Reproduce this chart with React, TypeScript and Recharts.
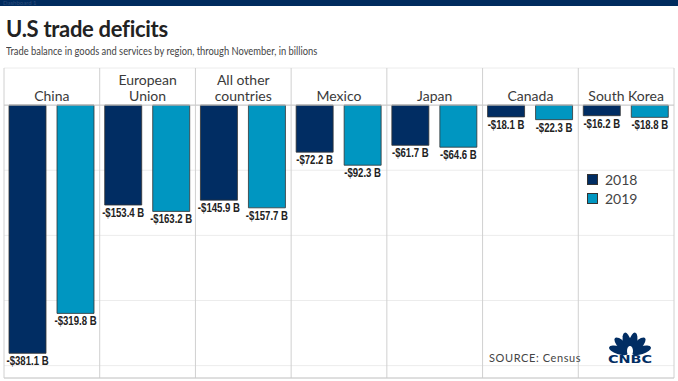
import React from 'react';
import { BarChart, Bar, XAxis, YAxis, CartesianGrid, ReferenceLine, LabelList } from 'recharts';

const categories = ['China', 'European\nUnion', 'All other\ncountries', 'Mexico', 'Japan', 'Canada', 'South Korea'];
const values2018 = [-381.1, -153.4, -145.9, -72.2, -61.7, -18.1, -16.2];
const values2019 = [-319.8, -163.2, -157.7, -92.3, -64.6, -22.3, -18.8];
const yTicks = [-400, -300, -200, -100, 0];
const seriesNames = ['2018', '2019'];

const NAVY = '#012d63';
const TEAL = '#0096c1';

const data = categories.map((c, i) => ({ name: c, y2018: values2018[i], y2019: values2019[i] }));

const fmt = (v: number) => `-$${Math.abs(v).toFixed(1)} B`;

const CategoryTick = (props: any) => {
  const { x, y, payload } = props;
  const lines = String(payload.value).split('\n');
  const base = y + 33;
  return (
    <g>
      {lines.map((l, i) => (
        <text
          key={i}
          x={x}
          y={base - (lines.length - 1 - i) * 16}
          textAnchor="middle"
          fontFamily="Lato, sans-serif"
          fontSize={14}
          fill="#3a3a3a"
        >
          {l}
        </text>
      ))}
    </g>
  );
};

const ValueLabel = (props: any) => {
  const { x, y, width, height, value } = props;
  const bottom = Math.max(y, y + height);
  return (
    <text
      transform={`translate(${x + width / 2},${bottom + 12}) scale(0.8,1)`}
      x={0}
      y={0}
      textAnchor="middle"
      fontFamily="'Liberation Sans', Arial, sans-serif"
      fontWeight="bold"
      fontSize={12}
      fill="#222"
    >
      {fmt(value)}
    </text>
  );
};

const LegendBox = () => (
  <div
    style={{
      position: 'absolute',
      left: 587,
      top: 170,
      fontFamily: 'Lato, sans-serif',
      fontSize: 14,
      color: '#444',
    }}
  >
    {seriesNames.map((n, i) => (
      <div key={n} style={{ display: 'flex', alignItems: 'center', height: 19 }}>
        <span
          style={{
            display: 'inline-block',
            width: 9,
            height: 9,
            background: i === 0 ? NAVY : TEAL,
            border: '1px solid #333',
            marginRight: 7,
          }}
        />
        <span>{n}</span>
      </div>
    ))}
  </div>
);

const CnbcLogo = () => {
  const angles = [-72, -43, -14, 14, 43, 72];
  return (
    <svg width={50} height={36} style={{ position: 'absolute', left: 605, top: 330 }}>
      <g transform="translate(25,24)">
        {angles.map((a) => (
          <ellipse key={a} cx={0} cy={-12} rx={4} ry={10} fill={NAVY} transform={`rotate(${a})`} />
        ))}
        <ellipse cx={0} cy={-3} rx={3} ry={5} fill="#fff" />
      </g>
      <text
        x={3}
        y={33}
        fontFamily="'DejaVu Sans', sans-serif"
        fontWeight="bold"
        fontSize={10}
        fill={NAVY}
        textLength={44}
        lengthAdjust="spacingAndGlyphs"
      >
        CNBC
      </text>
    </svg>
  );
};

export default function App() {
  return (
    <div
      style={{
        position: 'absolute',
        left: 0,
        top: 0,
        width: 678,
        height: 381,
        background: '#fff',
        overflow: 'hidden',
        fontFamily: 'Lato, sans-serif',
      }}
    >
      <div style={{ position: 'absolute', left: 0, top: 0, width: 678, height: 6, background: '#002b5e' }}>
        <span style={{ position: 'absolute', left: 3, top: -1, fontSize: 6, color: '#2c4c7a' }}>Dashboard 1</span>
      </div>
      <div
        style={{
          position: 'absolute',
          left: 6,
          top: 16,
          fontSize: 22,
          fontWeight: 700,
          color: '#222',
          lineHeight: '26px',
          letterSpacing: -0.3,
        }}
      >
        U.S trade deficits
      </div>
      <div
        style={{
          position: 'absolute',
          left: 6,
          top: 44,
          fontSize: 11,
          color: '#444',
          lineHeight: '13px',
          whiteSpace: 'nowrap',
          transform: 'scaleX(0.85)',
          transformOrigin: 'left top',
        }}
      >
        Trade balance in goods and services by region, through November, in billions
      </div>
      <div style={{ position: 'absolute', left: 0, top: 0 }}>
        <BarChart
          width={678}
          height={381}
          data={data}
          margin={{ top: 38, right: 4, bottom: 3, left: 4 }}
          barGap={11}
        >
          <CartesianGrid horizontal={true} vertical={false} stroke="#ececec" />
          <CartesianGrid
            horizontal={false}
            vertical={true}
            stroke="#d0d0d0"
            verticalCoordinatesGenerator={(p: any) =>
              Array.from({ length: categories.length + 1 }, (_, i) => p.offset.left + (i * p.offset.width) / categories.length)
            }
          />
          <XAxis
            dataKey="name"
            orientation="top"
            height={30}
            axisLine={false}
            tickLine={false}
            tickSize={0}
            tickMargin={0}
            interval={0}
            tick={<CategoryTick />}
          />
          <YAxis hide type="number" domain={[-419, 57]} ticks={yTicks} allowDataOverflow />
          <ReferenceLine y={0} stroke="#c8c8c8" />
          <ReferenceLine y={-419} stroke="#c8c8c8" />
          <Bar dataKey="y2018" name={seriesNames[0]} fill={NAVY} stroke="#333" strokeWidth={0.8} barSize={37} isAnimationActive={false}>
            <LabelList dataKey="y2018" content={<ValueLabel />} />
          </Bar>
          <Bar dataKey="y2019" name={seriesNames[1]} fill={TEAL} stroke="#333" strokeWidth={0.8} barSize={37} isAnimationActive={false}>
            <LabelList dataKey="y2019" content={<ValueLabel />} />
          </Bar>
        </BarChart>
      </div>
      <LegendBox />
      <div style={{ position: 'absolute', left: 489, top: 351, fontSize: 11, color: '#444', letterSpacing: 0.6 }}>
        SOURCE: Census
      </div>
      <CnbcLogo />
    </div>
  );
}
